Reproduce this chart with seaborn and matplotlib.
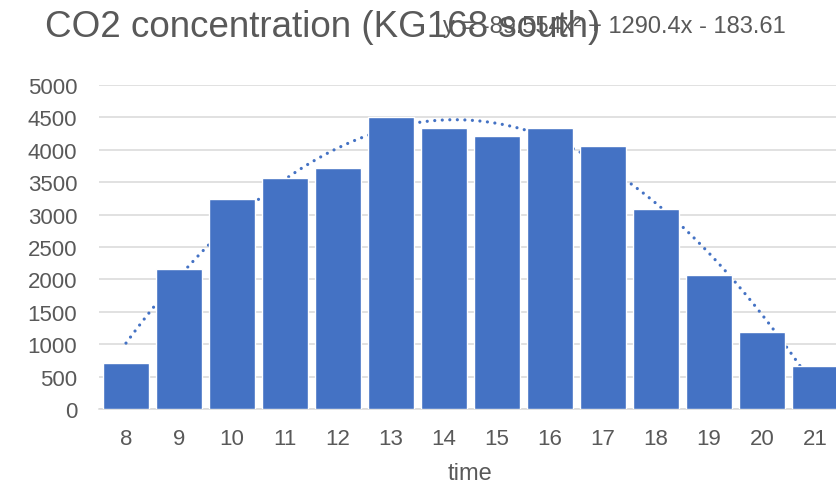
import numpy as np
import pandas as pd
import matplotlib
matplotlib.use("Agg")
import matplotlib.pyplot as plt
import seaborn as sns

# Hourly CO2 readings
hours = ["8", "9", "10", "11", "12", "13", "14", "15", "16", "17", "18", "19", "20", "21"]
co2 = [710, 2160, 3240, 3565, 3714, 4510, 4341, 4217, 4336, 4063, 3081, 2073, 1193, 664]

# Polynomial (order 2) trendline coefficients: a*x^2 + b*x + c, x = 1..n
trend_coef = [-89.554, 1290.4, -183.61]
trend_label = "y = -89.554x² + 1290.4x - 183.61"

title = "CO2 concentration (KG168 south)"
x_label = "time"
y_ticks = [0, 500, 1000, 1500, 2000, 2500, 3000, 3500, 4000, 4500, 5000]

BLUE = "#4472C4"
GREY_TXT = "#595959"
GRID = "#D9D9D9"

sns.set_theme(style="white")
plt.rcParams["font.family"] = ["Liberation Sans", "DejaVu Sans"]

df = pd.DataFrame({"time": hours, "co2": co2})

W, H = 836, 485
fig = plt.figure(figsize=(W / 100, H / 100), dpi=100)
ax = fig.add_axes([0.119, 0.1546, 0.8876, 0.668])

sns.barplot(data=df, x="time", y="co2", color=BLUE, saturation=1, width=0.87,
            ax=ax, zorder=3)

# trendline, drawn underneath the bars
a, b, c = trend_coef
xs = np.linspace(1, len(hours), 400)
ys = a * xs ** 2 + b * xs + c
ax.plot(xs - 1, ys, color=BLUE, lw=2.3, linestyle=(0, (0.01, 2.35)),
        dash_capstyle="round", zorder=2)

ax.set_ylim(0, 5000)
ax.set_xlim(-0.5, len(hours) - 0.5)
ax.set_yticks(y_ticks)
ax.yaxis.grid(True, color=GRID, lw=1.1, zorder=0)
ax.set_axisbelow(True)
for s in ["top", "right", "left"]:
    ax.spines[s].set_visible(False)
ax.spines["bottom"].set_color(GRID)
ax.spines["bottom"].set_linewidth(1.1)
ax.tick_params(axis="both", length=0, labelsize=16, colors=GREY_TXT)
ax.tick_params(axis="x", pad=14)
ax.tick_params(axis="y", pad=16)
ax.set_ylabel("")
ax.set_xlabel("")

fig.text(470 / W, 1 - 480 / H, x_label, fontsize=17, color=GREY_TXT,
         ha="center", va="baseline")
fig.text(45 / W, 1 - 37 / H, title, fontsize=26.5, color=GREY_TXT,
         ha="left", va="baseline")
fig.text(443 / W, 1 - 33 / H, trend_label, fontsize=17, color=GREY_TXT,
         ha="left", va="baseline")

fig.savefig("out.png", dpi=100)
